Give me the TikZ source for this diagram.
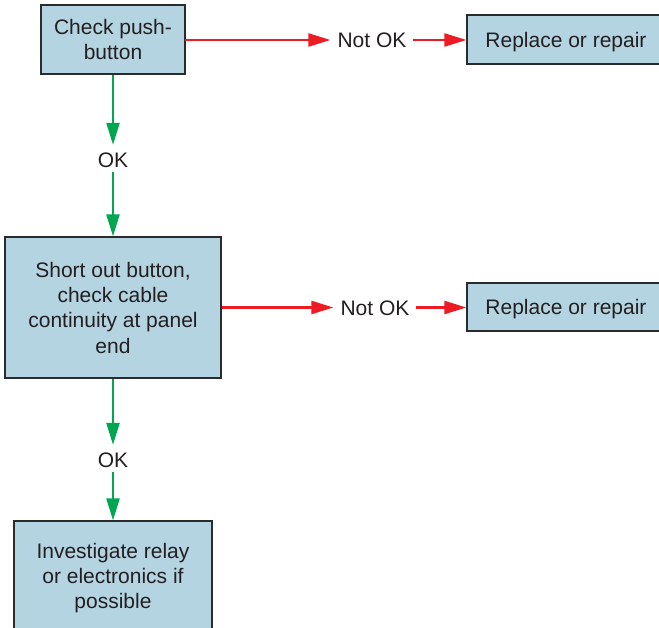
\documentclass[tikz,border=0pt]{standalone}
\usepackage{fontspec}
\setmainfont{Liberation Sans}
\usetikzlibrary{arrows.meta}
\definecolor{boxfill}{HTML}{B4D4E2}
\definecolor{boxline}{HTML}{2B2B2B}
\definecolor{txt}{HTML}{231F20}
\definecolor{nored}{HTML}{ED1C24}
\definecolor{okgreen}{HTML}{00A651}
\tikzset{
  stepbox/.style={draw=boxline, line width=1.3pt, fill=boxfill, text=txt, align=center,
    inner sep=0pt, text depth=0pt, font=\fontsize{21}{25.3}\selectfont},
  lbl/.style={text=txt, inner sep=0pt, text height=15pt, text depth=0pt,
    font=\fontsize{21}{25.3}\selectfont},
  redarr/.style={draw=nored, line width=2.4pt, -{Triangle[length=22pt,width=13pt]}},
  greenarr/.style={draw=okgreen, line width=2.4pt, -{Triangle[length=22pt,width=13pt]}}
}
\begin{document}
\begin{tikzpicture}[x=1pt,y=-1pt]
\useasboundingbox (0,0) rectangle (659,627);
\clip (0,0) rectangle (659,627);
\node[stepbox, minimum width=144pt, minimum height=69pt] (b1) at (113,39.5) {Check push-\\button};
\node[stepbox, minimum width=198pt, minimum height=49pt] (b2) at (566,39.5) {Replace or repair};
\node[lbl] (n1) at (372,40) {Not OK};
\node[lbl] (ok1) at (113,159.5) {OK};
\node[stepbox, minimum width=216pt, minimum height=141pt] (b3) at (113,307.5) {Short out button,\\check cable\\continuity at panel\\end};
\node[lbl] (n2) at (375,307.5) {Not OK};
\node[stepbox, minimum width=198pt, minimum height=48pt] (b4) at (566,307) {Replace or repair};
\node[lbl] (ok2) at (113,459.5) {OK};
\node[stepbox, minimum width=198pt, minimum height=110pt] (b5) at (113,576) {Investigate relay\\or electronics if\\possible};

\draw[redarr, shorten >=7pt, shorten <=-0.5pt] (b1.east |- n1) -- (n1.west);
\draw[redarr, shorten <=6pt] (n1.east) -- (b2.west |- n1);
\draw[redarr, shorten >=7pt] (b3.east |- n2) -- (n2.west);
\draw[redarr, shorten <=6pt] (n2.east) -- (b4.west |- n2);
\draw[greenarr, shorten >=7pt] (b1.south) -- (ok1.north);
\draw[greenarr, shorten <=5pt] (ok1.south) -- (b3.north);
\draw[greenarr, shorten >=7pt] (b3.south) -- (ok2.north);
\draw[greenarr, shorten <=5pt] (ok2.south) -- (b5.north);
\end{tikzpicture}
\end{document}
